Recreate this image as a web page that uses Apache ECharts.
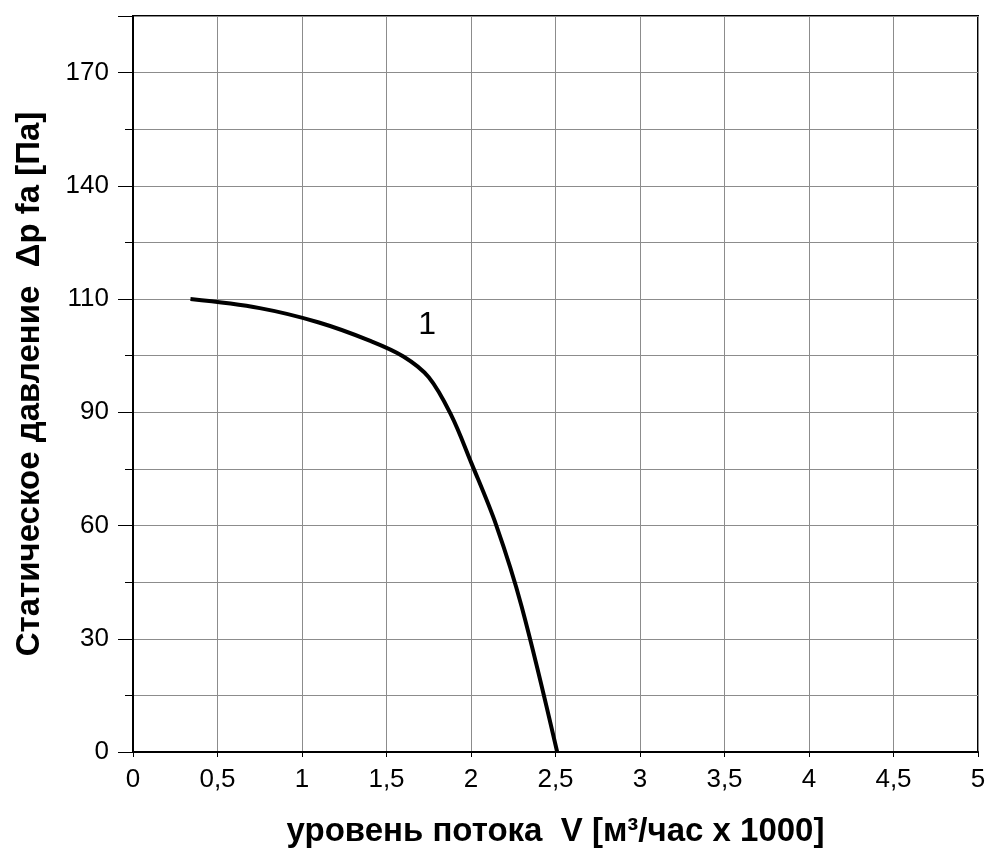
<!DOCTYPE html>
<html>
<head>
<meta charset="utf-8">
<script src="https://cdn.jsdelivr.net/npm/echarts@6/dist/echarts.min.js"></script>
<style>
  html, body { margin: 0; padding: 0; background: #fff; }
  #chart { width: 992px; height: 853px; }
</style>
</head>
<body>
<div id="chart"></div>
<script>
// flow V [m3/h x 1000]
var flowValues = [0.34, 0.75, 1.1, 1.4, 1.6, 1.75, 1.88, 2.0, 2.15, 2.3, 2.51]
// pressure, in positions of the y scale (ticks every 30 units, relabelled below)
var pressureValues = [120, 117.6, 113.8, 109, 104.8, 99.3, 89.5, 76.8, 60, 38.5, 0]
// printed labels of the major y ticks (0, 30, 60, ... on the scale)
var yTickLabels = ['0', '30', '60', '90', '110', '140', '170']
var xTickStep = 0.5
var curveName = '1'
var curveNamePos = [1.74, 113]

var fontFamily = 'Liberation Sans, Arial, sans-serif'

var chart = echarts.init(document.getElementById('chart'))

chart.setOption({
  animation: false,
  backgroundColor: '#fff',
  grid: {
    left: 133,
    right: 14,
    top: 16,
    bottom: 101,
    show: true,
    borderColor: '#000',
    borderWidth: 2
  },
  xAxis: {
    type: 'value',
    min: 0,
    max: 5,
    interval: xTickStep,
    name: 'уровень потока  V [м³/час x 1000]',
    nameLocation: 'middle',
    nameGap: 63,
    nameTextStyle: {
      color: '#000',
      fontSize: 33,
      fontWeight: 'bold',
      fontFamily: fontFamily,
      verticalAlign: 'top'
    },
    axisLine: { show: true, onZero: false, lineStyle: { color: '#000', width: 2 } },
    axisTick: { show: true, length: 5, lineStyle: { color: '#000', width: 1 } },
    axisLabel: {
      color: '#000',
      fontSize: 26,
      fontFamily: fontFamily,
      margin: 15,
      formatter: function (v) { return String(v).replace('.', ',') }
    },
    splitLine: { show: true, lineStyle: { color: '#8c8c8c', width: 1 } }
  },
  yAxis: {
    type: 'value',
    min: 0,
    max: 195,
    interval: 30,
    name: 'Статическое давление  Δp fa [Па]',
    nameLocation: 'middle',
    nameGap: 87,
    nameTextStyle: {
      color: '#000',
      fontSize: 33,
      fontWeight: 'bold',
      fontFamily: fontFamily
    },
    axisLine: { show: true, onZero: false, lineStyle: { color: '#000', width: 2 } },
    axisTick: { show: true, length: 15, lineStyle: { color: '#000', width: 1 } },
    minorTick: { show: true, splitNumber: 2, length: 8, lineStyle: { color: '#000', width: 1 } },
    minorSplitLine: { show: true, lineStyle: { color: '#8c8c8c', width: 1 } },
    axisLabel: {
      color: '#000',
      fontSize: 26,
      fontFamily: fontFamily,
      margin: 24,
      formatter: function (v) {
        var i = Math.round(v / 30)
        return yTickLabels[i] !== undefined ? yTickLabels[i] : ''
      }
    },
    splitLine: { show: true, lineStyle: { color: '#8c8c8c', width: 1 } }
  },
  series: [{
    type: 'line',
    data: flowValues.map(function (x, i) { return [x, pressureValues[i]] }),
    smooth: 0.35,
    showSymbol: false,
    lineStyle: { color: '#000', width: 4 },
    markPoint: {
      symbol: 'circle',
      symbolSize: 1,
      itemStyle: { color: 'rgba(0,0,0,0)' },
      label: {
        show: true,
        position: 'inside',
        formatter: curveName,
        color: '#000',
        fontSize: 32,
        fontFamily: fontFamily
      },
      data: [{ coord: curveNamePos }]
    }
  }]
})
</script>
</body>
</html>
